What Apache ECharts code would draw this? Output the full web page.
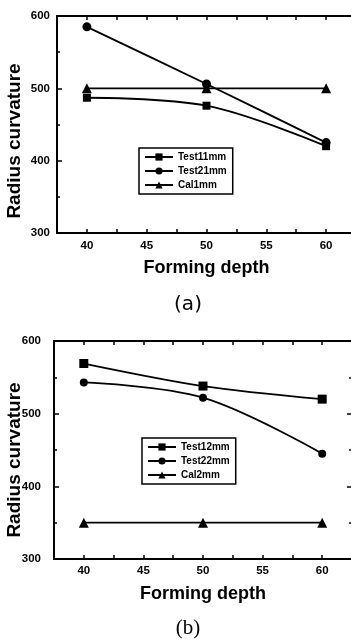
<!DOCTYPE html>
<html>
<head>
<meta charset="utf-8">
<style>
html,body{margin:0;padding:0;background:#fff;}
#chart{width:351px;height:641px;}
</style>
<script src="https://cdn.jsdelivr.net/npm/echarts@6/dist/echarts.min.js"></script>
</head>
<body>
<div id="chart"></div>
<script>
// ---- data ----
const depth = [40, 50, 60];
const xTicks = [40, 45, 50, 55, 60];
const yTicks = [300, 400, 500, 600];
const namesA = ['Test11mm', 'Test21mm', 'Cal1mm'];
const test11 = [487, 476, 420];
const test21 = [585, 506, 425];
const cal1 = [500, 500, 500];
const namesB = ['Test12mm', 'Test22mm', 'Cal2mm'];
const test12 = [569, 538, 520];
const test22 = [543, 522, 445];
const cal2 = [350, 350, 350];
const panelLabels = ['(a)', '(b)'];
const xTitle = 'Forming depth';
const yTitle = 'Radius curvature';

const FONT = '"Liberation Sans", Arial, sans-serif';
const pairs = vals => depth.map((d, i) => [d, vals[i]]);

function xAxisCfg(grid, pos, show, margin) {
  return {
    type: 'value', gridIndex: grid, position: pos,
    min: 37.5, max: 62.5, interval: 2.5,
    axisLine: { show: true, onZero: false, lineStyle: { color: '#000', width: 2 } },
    axisTick: { show: true, inside: true, length: 4, lineStyle: { color: '#000', width: 1.5 } },
    axisLabel: {
      show: show, margin: margin, color: '#000', fontFamily: FONT, fontWeight: 'bold', fontSize: 11.5,
      showMinLabel: false, showMaxLabel: false,
      formatter: v => (xTicks.indexOf(v) >= 0 ? String(v) : '')
    },
    splitLine: { show: false }
  };
}
function yAxisCfg(grid, pos, show, margin) {
  return {
    type: 'value', gridIndex: grid, position: pos,
    min: 300, max: 600, interval: 100,
    axisLine: { show: true, onZero: false, lineStyle: { color: '#000', width: 2 } },
    axisTick: { show: true, inside: true, length: 5, lineStyle: { color: '#000', width: 1.5 } },
    minorTick: { show: true, splitNumber: 2, length: 3, lineStyle: { color: '#000', width: 1.5 } },
    axisLabel: {
      show: show, margin: margin, color: '#000', fontFamily: FONT, fontWeight: 'bold', fontSize: 11.5,
      formatter: v => (yTicks.indexOf(v) >= 0 ? String(v) : '')
    },
    splitLine: { show: false }, minorSplitLine: { show: false }
  };
}
function series(name, vals, xi, yi, symbol, size, smooth) {
  return {
    name: name, type: 'line', xAxisIndex: xi, yAxisIndex: yi,
    data: pairs(vals), symbol: symbol, symbolSize: size, smooth: smooth,
    lineStyle: { color: '#000', width: 1.8 },
    itemStyle: { color: '#000' }, showSymbol: true, animation: false
  };
}
function legendCfg(names, left, top) {
  return {
    data: names, orient: 'vertical', left: left, top: top,
    borderColor: '#000', borderWidth: 1.5, borderRadius: 0,
    padding: [4, 6, 4, 5], itemWidth: 28, itemHeight: 9, itemGap: 4,
    textStyle: { color: '#000', fontFamily: FONT, fontWeight: 'bold', fontSize: 10 }
  };
}

const chart = echarts.init(document.getElementById('chart'), null, { renderer: 'canvas' });
chart.setOption({
  backgroundColor: '#fff',
  animation: false,
  grid: [
    { left: 57, top: 16, width: 299, height: 217, containLabel: false, outerBoundsMode: 'none' },
    { left: 54, top: 341, width: 298, height: 218, containLabel: false, outerBoundsMode: 'none' }
  ],
  xAxis: [
    Object.assign(xAxisCfg(0, 'bottom', true, 7), {
      name: xTitle, nameLocation: 'middle', nameGap: 26,
      nameTextStyle: { color: '#000', fontFamily: FONT, fontWeight: 'bold', fontSize: 18 }
    }),
    xAxisCfg(0, 'top', false, 0),
    Object.assign(xAxisCfg(1, 'bottom', true, 6), {
      name: xTitle, nameLocation: 'middle', nameGap: 26,
      nameTextStyle: { color: '#000', fontFamily: FONT, fontWeight: 'bold', fontSize: 18 }
    }),
    xAxisCfg(1, 'top', false, 0)
  ],
  yAxis: [
    yAxisCfg(0, 'left', true, 7),
    yAxisCfg(0, 'right', false, 0),
    yAxisCfg(1, 'left', true, 13),
    yAxisCfg(1, 'right', false, 0)
  ],
  legend: [
    legendCfg(namesA, 139, 148),
    legendCfg(namesB, 142, 438)
  ],
  graphic: [
    { type: 'text', x: 15, y: 141, rotation: Math.PI / 2,
      style: { text: yTitle, fill: '#000', font: 'bold 19px ' + FONT, textAlign: 'center', textVerticalAlign: 'middle' } },
    { type: 'text', x: 15, y: 460, rotation: Math.PI / 2,
      style: { text: yTitle, fill: '#000', font: 'bold 19px ' + FONT, textAlign: 'center', textVerticalAlign: 'middle' } },
    { type: 'text', x: 188, y: 305,
      style: { text: panelLabels[0], fill: '#000', font: '20px "DejaVu Sans", sans-serif', textAlign: 'center', textVerticalAlign: 'middle' } },
    { type: 'text', x: 188, y: 628,
      style: { text: panelLabels[1], fill: '#000', font: '21px "Liberation Serif", serif', textAlign: 'center', textVerticalAlign: 'middle' } }
  ],
  series: [
    series(namesA[0], test11, 0, 0, 'rect', 8, 0.35),
    series(namesA[1], test21, 0, 0, 'circle', 9, 0.2),
    series(namesA[2], cal1, 0, 0, 'triangle', 10, false),
    series(namesB[0], test12, 2, 2, 'rect', 9, 0.3),
    series(namesB[1], test22, 2, 2, 'circle', 8, 0.35),
    series(namesB[2], cal2, 2, 2, 'triangle', 10, false)
  ]
});
</script>
</body>
</html>
